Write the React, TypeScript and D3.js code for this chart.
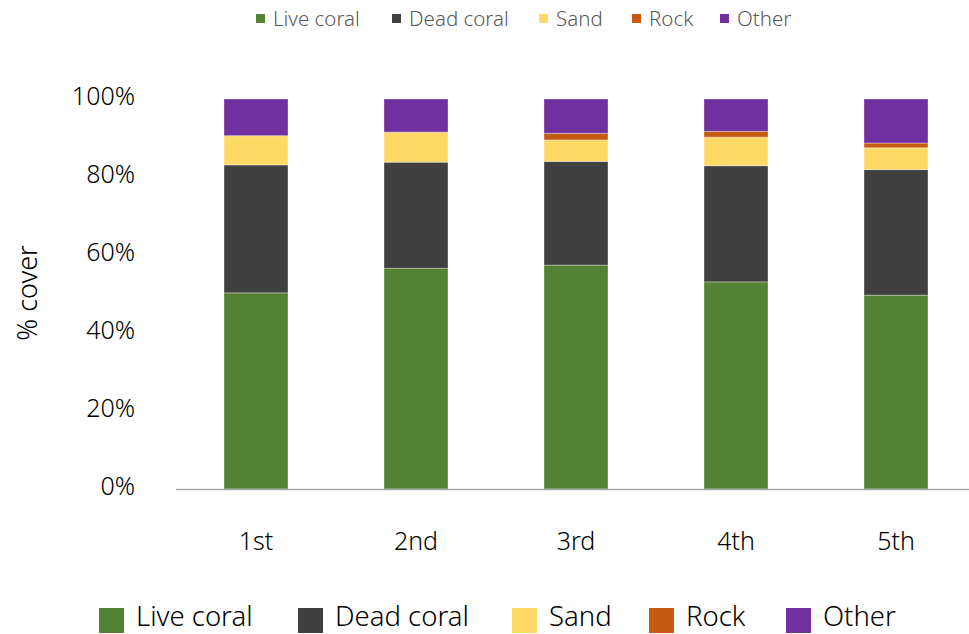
import React from "react";
import * as d3 from "d3";

const categories = ["1st", "2nd", "3rd", "4th", "5th"];
const seriesNames = ["Live coral", "Dead coral", "Sand", "Rock", "Other"];
const liveCoral = [50.3, 56.6, 57.4, 53.1, 49.7];
const deadCoral = [32.8, 27.2, 26.6, 29.8, 32.2];
const sand = [7.5, 7.7, 5.5, 7.3, 5.6];
const rock = [0, 0, 1.7, 1.5, 1.2];
const other = [9.4, 8.5, 8.8, 8.3, 11.3];
const yTicks = [0, 20, 40, 60, 80, 100];
const colors = ["#548235", "#404040", "#FFD966", "#C55A11", "#7030A0"];

const FONT = "'Noto Sans', 'Open Sans', sans-serif";

export default function App() {
  const W = 969;
  const H = 634;
  const seriesValues = [liveCoral, deadCoral, sand, rock, other];
  const rows = categories.map((c, i) => {
    const r: any = { cat: c };
    seriesNames.forEach((s, j) => (r[s] = seriesValues[j][i]));
    return r;
  });
  const stack = d3.stack<any>().keys(seriesNames)(rows);

  const x = d3.scaleBand<string>().domain(categories).range([176, 976]).paddingInner(0.6).paddingOuter(0.3);
  const y = d3.scaleLinear().domain([0, 100]).range([489, 99]);

  const topLegendX = [256, 392, 539, 632, 720];
  const botLegendX = [99, 298, 512, 649, 786];

  return (
    <svg width={W} height={H} style={{ position: "absolute", left: 0, top: 0, background: "#fff" }} fontFamily={FONT} fontWeight={300}>
      <rect width={W} height={H} fill="#fff" />
      {stack.map((layer, li) => (
        <g key={layer.key}>
          {layer.map((d, i) => {
            const h = y(d[0]) - y(d[1]);
            if (h <= 0) return null;
            return (
              <rect
                key={i}
                x={x(categories[i])}
                y={y(d[1])}
                width={x.bandwidth()}
                height={h}
                fill={colors[li]}
                stroke="#ffffff"
                strokeOpacity={0.35}
                strokeWidth={1}
              />
            );
          })}
        </g>
      ))}
      <line x1={176} x2={W} y1={489.5} y2={489.5} stroke="#A6A6A6" strokeWidth={1.5} />
      {yTicks.map((t) => (
        <text key={t} x={135} y={y(t) - 3} dy="0.35em" textAnchor="end" fontSize={25} fill="#000">
          {t}%
        </text>
      ))}
      <text transform={`translate(28,293) rotate(-90)`} textAnchor="middle" dy="0.35em" fontSize={27} fill="#000">
        % cover
      </text>
      {categories.map((c) => (
        <text key={c} x={(x(c) as number) + x.bandwidth() / 2} y={541} dy="0.35em" textAnchor="middle" fontSize={25} fill="#000">
          {c}
        </text>
      ))}
      {seriesNames.map((s, i) => (
        <g key={"t" + s}>
          <rect x={topLegendX[i]} y={14} width={9} height={9} fill={colors[i]} />
          <text x={topLegendX[i] + 17} y={18.5} dy="0.35em" fontSize={20.5} fill="#595959">
            {s}
          </text>
        </g>
      ))}
      {seriesNames.map((s, i) => (
        <g key={"b" + s}>
          <rect x={botLegendX[i]} y={608} width={25} height={25} fill={colors[i]} />
          <text x={botLegendX[i] + 37} y={626} fontSize={27.5} fill="#000">
            {s}
          </text>
        </g>
      ))}
    </svg>
  );
}
